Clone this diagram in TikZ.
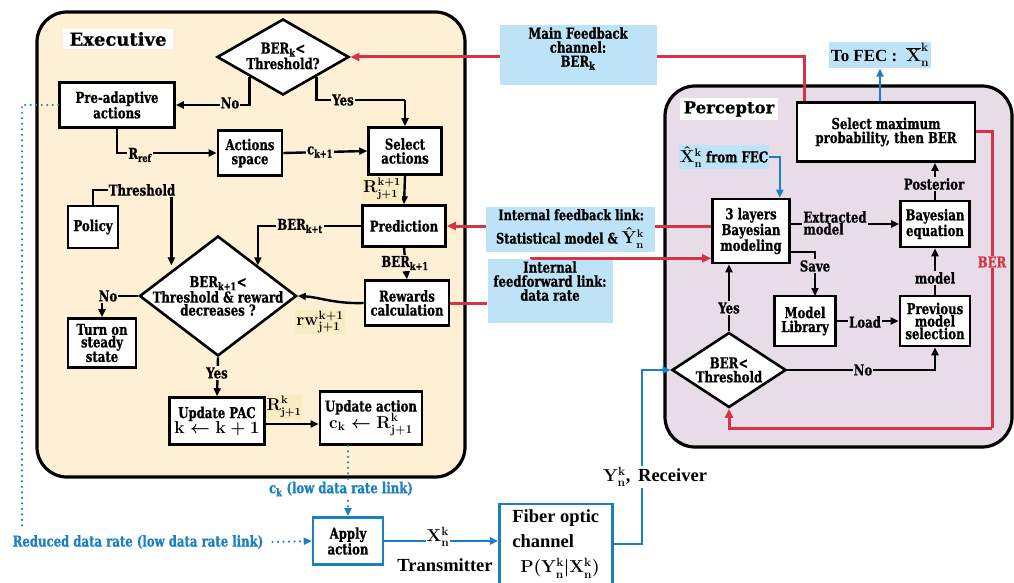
\documentclass[tikz,border=0pt]{standalone}
\usepackage[no-math]{fontspec}
\setmainfont{DejaVu Serif}[FakeStretch=0.78, BoldFeatures={FakeBold=0.8}]
\newfontfamily\wide{DejaVu Serif}[BoldFeatures={FakeBold=0.8}]
\newfontfamily\tnr{Liberation Serif}
\usetikzlibrary{arrows.meta,shapes.geometric,calc}
\definecolor{cream}{HTML}{FDF0D5}
\definecolor{creamlab}{HTML}{FAEBC3}
\definecolor{lav}{HTML}{E7DCE8}
\definecolor{lblue}{HTML}{BEE3F6}
\definecolor{myred}{HTML}{D43445}
\definecolor{myblue}{HTML}{1A80C2}
\newcommand\bsub[1]{\textsubscript{#1}}
\begin{document}
\begin{tikzpicture}[x=1pt,y=-1pt,
  every node/.style={inner sep=1.5pt},
  txt/.style={font=\fontsize{15}{14}\selectfont\bfseries, align=center},
  mth/.style={font=\fontsize{16}{16}\selectfont\boldmath},
  frame/.style={draw, line width=3.2pt, rounded corners=30pt},
  box/.style={txt, draw, line width=2.6pt, fill=white, inner sep=1pt},
  bbox/.style={box, draw=myblue},
  dia/.style={diamond, draw, line width=2.6pt, fill=white, inner sep=0pt},
  lab/.style={txt, inner sep=1pt},
  clab/.style={lab, fill=cream},
  plab/.style={lab, fill=lav},
  blab/.style={txt, fill=lblue, inner sep=2pt},
  ln/.style={line width=2.4pt},
  arr/.style={ln, -{Triangle[length=8pt,width=7pt]}},
  rln/.style={draw=myred, line width=3pt},
  rarr/.style={rln, -{Triangle[length=9pt,width=8pt]}},
  barr/.style={draw=myblue, line width=2.6pt, -{Triangle[length=8pt,width=7pt]}},
  dots/.style={draw=myblue, line width=2.4pt, line cap=round, dash pattern=on 0pt off 5.5pt},
]
\useasboundingbox (0,0) rectangle (1014,583);

% ---------- containers ----------
\node[frame, fill=cream, minimum width=428pt, minimum height=465pt] (exec) at (251,244.5) {};
\node[frame, fill=lav, minimum width=347pt, minimum height=361pt] (perc) at (838.5,266.5) {};
\node[txt, fill=white, font=\fontsize{18}{18}\selectfont\wide\bfseries, inner xsep=6pt, inner ysep=3pt] (exect) at (118,39) {Executive};
\node[txt, fill=white, font=\fontsize{16.5}{18}\selectfont\wide\bfseries, inner xsep=4pt, inner ysep=3pt] (perct) at (729,109) {Perceptor};

% ---------- executive blocks ----------
\node[dia, minimum width=132pt, minimum height=76pt] (d1) at (283,57) {};
\node[txt] (d1t) at (283,56) {BER\bsub{k}<\\Threshold?};
\node[box, minimum width=115pt, minimum height=45pt] (pre) at (117,105) {Pre-adaptive\\actions};
\node[box, minimum width=64pt, minimum height=45pt] (act) at (250,153) {Actions\\space};
\node[box, minimum width=73pt, minimum height=47pt] (sel) at (405,151) {Select\\actions};
\node[box, minimum width=83pt, minimum height=41pt] (pred) at (404,226) {Prediction};
\node[box, minimum width=84pt, minimum height=45pt] (rew) at (407,303) {Rewards\\calculation};
\node[box, minimum width=50pt, minimum height=42pt] (pol) at (93,227) {Policy};
\node[dia, minimum width=157pt, minimum height=120pt] (d2) at (218,296) {};
\node[txt, font=\fontsize{15}{13}\selectfont\bfseries] (d2t) at (218,296) {BER\bsub{k+1}<\\Threshold \& reward\\decreases ?};
\node[box, minimum width=68pt, minimum height=49pt, font=\fontsize{15}{12.5}\selectfont\bfseries] (turn) at (102,343) {Turn on\\steady\\state};
\node[box, minimum width=95pt, minimum height=47pt] (upd) at (217,421) {Update PAC\\[-1pt]{\fontsize{17}{17}\selectfont\boldmath$\mathbf{k \leftarrow k+1}$}};
\node[box, minimum width=102pt, minimum height=53pt] (ua) at (371,418) {Update action\\[-2pt]{\fontsize{17}{17}\selectfont\boldmath$\mathbf{c_k \leftarrow R^k_{j+1}}$}};

% ---------- transmission chain ----------
\node[bbox, minimum width=70pt, minimum height=47pt] (app) at (348,541) {Apply\\action};
\node[bbox, minimum width=113pt, minimum height=80pt, align=left, font=\fontsize{18.5}{25}\selectfont\tnr\bfseries, inner xsep=6pt] (fib) at (556,544) {Fiber optic\\channel\\\hspace*{8pt}{\boldmath$\mathbf{P(Y^k_n|X^k_n)}$}};

% ---------- perceptor blocks ----------
\node[box, minimum width=178pt, minimum height=59pt] (sel2) at (886,132) {Select maximum\\probability, then BER};
\node[box, minimum width=77pt, minimum height=64pt] (lay) at (751,231) {3 layers\\Bayesian\\modeling};
\node[box, minimum width=69pt, minimum height=46pt] (beq) at (935,224) {Bayesian\\equation};
\node[box, minimum width=61pt, minimum height=50pt] (lib) at (805,321) {Model\\Library};
\node[box, minimum width=70pt, minimum height=50pt, font=\fontsize{15}{12.5}\selectfont\bfseries] (prev) at (935,321) {Previous\\model\\selection};
\node[dia, minimum width=114pt, minimum height=75pt] (d3) at (729,370) {};
\node[txt] (d3t) at (729,370) {BER<\\Threshold};

% ---------- executive connectors ----------
\draw[arr] (d1.south west) |- (pre.east);
\coordinate (yes1) at (405,100);
\draw[ln] (d1.south east) |- (yes1);
\draw[arr] (yes1) -- (sel.north);
\draw[arr] (pre.south) |- (act.west);
\draw[arr] (act.east) -- (sel.west);
\draw[arr] (sel.south) -- (pred.north);
\draw[arr] (pred.south) -- (rew.north);
\draw[arr] (pred.west) -| (d2.north east);
\draw[arr] (rew.west) .. controls (335,304) and (318,297) .. (d2.east);
\draw[arr] (d2.west) -| (turn.north);
\draw[arr] (d2.south) -- (upd.north);
\draw[arr] (upd.east |- 0,424) -- (ua.west |- 0,424);

\node[clab] (nol) at (230,103) {No};
\node[clab] (yesl) at (343,100) {Yes};
\node[clab] (rref) at (140,155) {R\bsub{ref}};
\node[clab] (ck1) at (320,152) {c\bsub{k+1}};
\node[lab, mth, fill=creamlab] (rsel) at (382,189) {$\mathbf{R^{k+1}_{j+1}}$};
\node[clab] (berk1) at (405,263) {BER\bsub{k+1}};
\node[clab] (berkt) at (300,226) {BER\bsub{k+t}};
\node[lab, mth, fill=creamlab, font=\fontsize{18}{18}\selectfont\boldmath] (rwl) at (320,322) {$\mathbf{rw^{k+1}_{j+1}}$};
\node[clab] (no2) at (108,296) {No};
\node[clab] (yes2) at (217,373) {Yes};
\node[lab, mth, fill=creamlab] (rupd) at (284,407) {$\mathbf{R^k_{j+1}}$};

% policy threshold
\node[lab] (thr) at (142,190) {Threshold};
\draw[ln] (pol.north) |- (thr.west);
\coordinate (t1) at ($(thr.south east)+(-5,0)$);
\draw[arr] (t1) -- (t1 |- d2.north west);

% ---------- low data rate links ----------
\coordinate (dotend) at (22,527);
\draw[dots] (pre.west) -| (dotend);
\node[lab, text=myblue] (red) at (138,542) {Reduced data rate (low data rate link)};
\draw[dots, -{Triangle[length=8pt,width=7pt]}] (red.east) ++(8,0) -- (app.west);
\draw[dots, -{Triangle[length=8pt,width=7pt]}] (ua.south -| app.north) -- (app.north);
\node[lab, text=myblue, fill=white] (ckl) at (341,489) {c\bsub{k} (low data rate link)};

% transmitter / receiver
\draw[barr] (app.east) -- (app.east -| fib.west);
\node[lab, fill=white, font=\fontsize{18}{18}\selectfont\boldmath] (xl) at (438,537) {$\mathbf{X^k_n}$};
\node[lab, font=\fontsize{18.5}{18}\selectfont\tnr\bfseries] (trl) at (445,565) {Transmitter};
\draw[barr] (fib.east) -- ++(28,0) |- (d3.west);
\node[lab, fill=white, font=\fontsize{18.5}{18}\selectfont\tnr\bfseries] (rcl) at (655,477) {{\boldmath$\mathbf{Y^k_n}$},\, Receiver};

% ---------- perceptor connectors ----------
\draw[arr] (lay.east |- beq.west) -- (beq.west);
\node[plab, align=left, font=\fontsize{15}{12}\selectfont\bfseries] (exl) at (835,223) {Extracted\\model};
\coordinate (sv) at (789,252);
\coordinate (svd) at (815,296);
\draw[arr] (sv) -| (svd);
\node[plab] (savl) at (815,266) {Save};
\draw[arr] (lib.east) -- (prev.west);
\node[plab] (loadl) at (865,322) {Load};
\draw[arr] (prev.north) -- (beq.south);
\node[plab] (modl) at (935,278) {model};
\draw[arr] (beq.north) -- (beq.north |- sel2.south);
\node[plab] (postl) at (934,184) {Posterior};
\draw[arr] (d3.north) -- (d3.north |- lay.south);
\node[plab] (yes3) at (729,308) {Yes};
\draw[arr] (d3.east) -| (prev.south);
\node[plab] (no3) at (863,370) {No};

% FEC links
\node[blab, font=\fontsize{17}{17}\selectfont\tnr\bfseries] (tofec) at (880,55) {To FEC :\; {\boldmath$\mathbf{\overline{X}^k_n}$}};
\draw[barr] (sel2.north -| tofec.south) -- (tofec.south);
\node[blab, inner sep=1pt] (xhat) at (724,157) {{\fontsize{16}{16}\selectfont\boldmath$\mathbf{\hat{X}^k_n}$} from FEC};
\draw[barr] (xhat.east) -| ($(lay.north east)+(-11,0)$);

% ---------- red feedback links ----------
\draw[rarr] ($(sel2.north west)+(9,0)$) |- (d1.east);
\node[blab, minimum width=157pt, minimum height=55pt] (mfb) at (578,55) {Main Feedback\\channel:\\BER\bsub{k}\\[2pt]};
\coordinate (berc) at (992,428);
\draw[rln] (sel2.east) -| (berc);
\draw[rarr] (berc) -| (d3.south);
\node[plab, text=myred] (berl) at (992,262) {BER};
\draw[rarr] (lay.west |- pred.east) -- (pred.east);
\node[blab, minimum width=169pt, minimum height=45pt, align=right, font=\fontsize{14.5}{14}\selectfont\bfseries] (ifb) at (570,229) {Internal feedback link:\\[6pt]Statistical model \& {\fontsize{16}{16}\selectfont\boldmath$\mathbf{\hat{Y}^k_n}$}};
\node[blab, minimum width=125pt, minimum height=57pt] (ffw) at (550,291) {Internal\\feedforward link:\\data rate\\[6pt]};
\draw[rln] (rew.east) -- (rew.east -| ffw.west);
\draw[rarr] ($(ffw.north west)+(44,0)$) |- ($(lay.south west)+(0,-6)$);

\end{tikzpicture}
\end{document}
